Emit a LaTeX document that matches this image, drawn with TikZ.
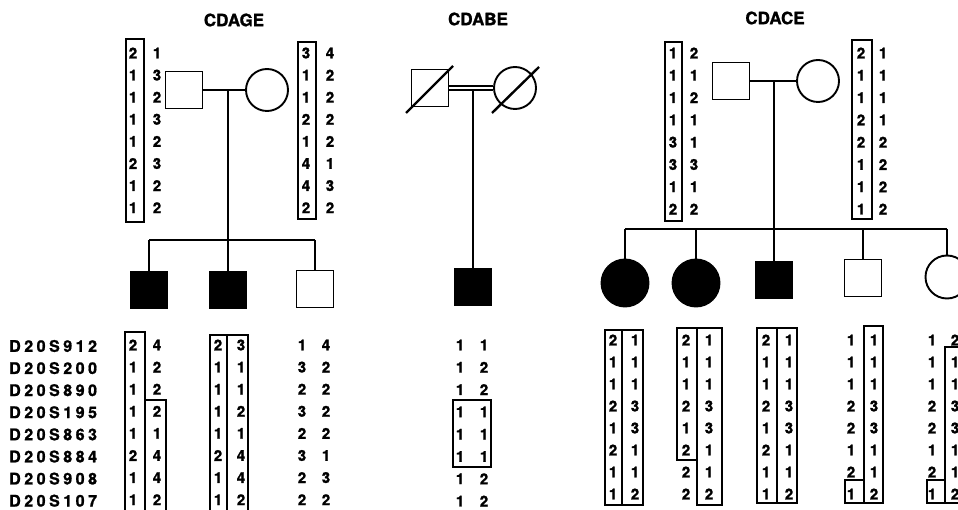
\documentclass[tikz,border=0pt]{standalone}
\usepackage{fontspec}
\setmainfont{TeX Gyre Heros}[BoldFeatures={FakeBold=1.2}]
\usetikzlibrary{calc}
\tikzset{
  male/.style   ={rectangle, draw=black, line width=1.9pt, minimum size=37pt, inner sep=0pt},
  female/.style ={circle, draw=black, line width=1.9pt, minimum size=42pt, inner sep=0pt},
  big/.style    ={minimum size=47pt},
  aff/.style    ={fill=black},
  link/.style   ={draw=black, line width=1.9pt},
  cons/.style   ={draw=black, line width=1.6pt, double=white, double distance=2.2pt},
  dead/.style   ={draw=black, line width=2.4pt},
  hap/.style    ={draw=black, line width=1.9pt},
  allele/.style ={font=\fontsize{15}{15}\selectfont\bfseries, inner sep=0pt},
  fam/.style    ={font=\fontsize{17}{17}\selectfont\bfseries, inner sep=0pt},
  marker/.style ={font=\fontsize{16}{16}\selectfont\bfseries\addfontfeatures{LetterSpace=22}, inner sep=0pt, anchor=west},
}
% one column of alleles: name, x, y of first row, row step, values
\newcommand{\hapcol}[5]{%
  \foreach \v [count=\i] in {#5} {
    \node[allele] (#1-\i) at (#2, {#3+(\i-1)*#4}) {\v};
  }}

\begin{document}
\begin{tikzpicture}[x=1pt, y=-1pt]
\useasboundingbox (0,0) rectangle (958,510);
\clip (0,0) rectangle (958,510);

% marker names
\foreach \m [count=\i] in {D20S912,D20S200,D20S890,D20S195,D20S863,D20S884,D20S908,D20S107}
  \node[marker] (mk-\i) at (9, {346+(\i-1)*22.1}) {\m};

%% family CDAGE
\node[fam] (t1) at (234,20) {CDAGE};
\node[male] (f1) at (184,90) {};
\node[female] (m1) at (267,90) {};
\coordinate (u1) at (228,90);
\coordinate (s1a) at (149,240);
\coordinate (s1b) at (315,240);
\node[male, aff] (c11) at (149,290) {};
\node[male, aff] (c12) at (228,290) {};
\node[male] (c13) at (315,289) {};
\draw[link] (f1) -- (m1);
\draw[link] (u1) -- (c12);
\draw[link] (s1a) -- (s1b);
\draw[link] (s1a) -- (c11);
\draw[link] (s1b) -- (c13);

\hapcol{f1L}{133}{53}{22.1}{2,1,1,1,1,2,1,1}
\hapcol{f1R}{157}{53}{22.1}{1,3,2,3,2,3,2,2}
\hapcol{m1L}{306}{53}{22.1}{3,1,1,2,1,4,4,2}
\hapcol{m1R}{330}{53}{22.1}{4,2,2,2,2,1,3,2}
\draw[hap] (126,39) rectangle (144,222);
\draw[hap] (298,42) rectangle (316,219);

\hapcol{c11L}{133}{345}{22.1}{2,1,1,1,1,2,1,1}
\hapcol{c11R}{157}{345}{22.1}{4,2,2,2,1,4,4,2}
\hapcol{c12L}{218}{345}{22.1}{2,1,1,1,1,2,1,1}
\hapcol{c12R}{241}{345}{22.1}{3,1,1,2,1,4,4,2}
\hapcol{c13L}{302}{345}{22.1}{1,3,2,3,2,3,2,2}
\hapcol{c13R}{326}{345}{22.1}{4,2,2,2,2,1,3,2}
\draw[hap] (125,332) rectangle (145,515);
\draw[hap] (145,400) rectangle (166,515);
\draw[hap] (210,335) rectangle (227,515);
\draw[hap] (227,335) rectangle (248,515);

%% family CDABE
\node[fam] (t2) at (478,19) {CDABE};
\node[male] (f2) at (430,88) {};
\node[female] (m2) at (515,88) {};
\coordinate (u2) at (473,91);
\node[male, aff] (c21) at (473,287) {};
\draw[cons] (f2) -- (m2);
\draw[link] (u2) -- (c21);
\draw[dead] ($(f2)+(-24,25)$) -- ($(f2)+(23,-22)$);
\draw[dead] ($(m2)+(-23,25)$) -- ($(m2)+(24,-21)$);

\hapcol{c21L}{460}{345}{22.3}{1,1,1,1,1,1,1,1}
\hapcol{c21R}{484}{345}{22.3}{1,2,2,1,1,1,2,2}
\draw[hap] (453,400) rectangle (491,467);

%% family CDACE
\node[fam] (t3) at (775,18) {CDACE};
\node[male] (f3) at (731,81) {};
\node[female] (m3) at (818,81) {};
\coordinate (u3) at (774,81);
\coordinate (s3a) at (625,229);
\coordinate (s3b) at (696,229);
\coordinate (s3d) at (863,229);
\coordinate (s3e) at (947,229);
\node[female, big, aff] (c31) at (625,283) {};
\node[female, big, aff] (c32) at (696,283) {};
\node[male, aff] (c33) at (774,280) {};
\node[male] (c34) at (863,278) {};
\node[female, minimum size=43pt] (c35) at (947,277) {};
\draw[link] (f3) -- (m3);
\draw[link] (u3) -- (c33);
\draw[link] (s3a) -- (s3e);
\draw[link] (s3a) -- (c31);
\draw[link] (s3b) -- (c32);
\draw[link] (s3d) -- (c34);
\draw[link] (s3e) -- (c35);

\hapcol{f3L}{673}{53}{22.3}{1,1,1,1,3,3,1,2}
\hapcol{f3R}{694}{53}{22.3}{2,1,2,1,1,3,1,2}
\hapcol{m3L}{861}{53}{22.3}{2,1,1,2,2,1,1,1}
\hapcol{m3R}{883}{53}{22.3}{1,1,1,1,2,2,2,2}
\draw[hap] (665,42) rectangle (682,221);
\draw[hap] (852,40) rectangle (872,219);

\hapcol{c31L}{613}{340}{22}{2,1,1,2,1,2,1,1}
\hapcol{c31R}{635}{340}{22}{1,1,1,3,3,1,1,2}
\hapcol{c32L}{686}{340}{22}{2,1,1,2,1,2,2,2}
\hapcol{c32R}{709}{340}{22}{1,1,1,3,3,1,1,2}
\hapcol{c33L}{766}{340}{22}{2,1,1,2,1,2,1,1}
\hapcol{c33R}{789}{340}{22}{1,1,1,3,3,1,1,2}
\hapcol{c34L}{851}{340}{22}{1,1,1,2,2,1,2,1}
\hapcol{c34R}{874}{340}{22}{1,1,1,3,3,1,1,2}
\hapcol{c35L}{932}{340}{22}{1,1,1,2,2,1,2,1}
\hapcol{c35R}{955}{340}{22}{2,1,1,3,3,1,1,2}
\draw[hap] (605,330) rectangle (622,505);
\draw[hap] (622,330) rectangle (643,505);
\draw[hap] (677,328) rectangle (697,460);
\draw[hap] (697,328) rectangle (722,505);
\draw[hap] (757,328) rectangle (777,503);
\draw[hap] (777,328) rectangle (797,503);
\draw[hap] (864,326) rectangle (883,503);
\draw[hap] (845,480) rectangle (864,503);
\draw[hap] (945,347) rectangle (975,503);
\draw[hap] (927,480) rectangle (945,503);
\end{tikzpicture}
\end{document}
